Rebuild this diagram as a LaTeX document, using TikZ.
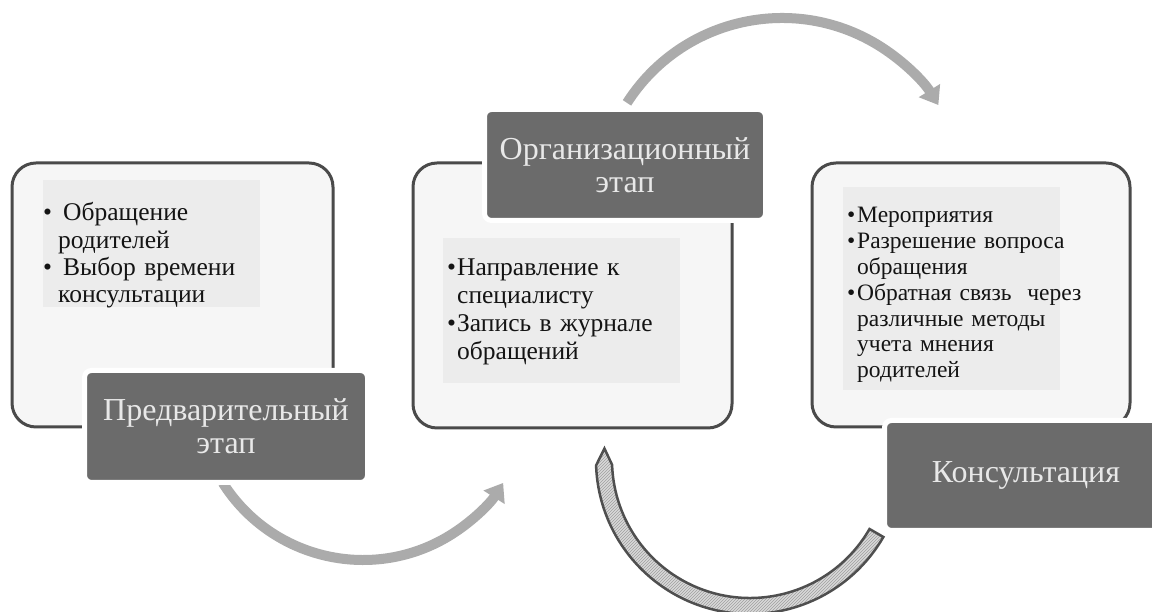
\documentclass[tikz,border=0pt]{standalone}
\usepackage{fontspec}
\setmainfont{Liberation Serif}
\usetikzlibrary{arrows.meta,patterns,calc}
\definecolor{boxline}{HTML}{4A4A4A}
\definecolor{boxfill}{HTML}{F6F6F6}
\definecolor{ghost}{HTML}{ECECEC}
\definecolor{labfill}{HTML}{6B6B6B}
\definecolor{labtext}{HTML}{E8E8E8}
\definecolor{arrowgray}{HTML}{ABABAB}
\definecolor{hatchline}{HTML}{4F4F4F}
\definecolor{bodytext}{HTML}{141414}
\newcommand{\bitem}[2]{\par\hangindent=#1\hangafter=1\noindent\makebox[#1][l]{•}#2\par}
\tikzset{
  stagebox/.style={draw=boxline, line width=3pt, fill=boxfill, rounded corners=24pt, inner sep=0pt},
  stagelabel/.style={draw=white, line width=5pt, fill=labfill, rounded corners=7pt, text=labtext,
     align=center, inner sep=0pt, font=\fontsize{32}{33}\selectfont},
  bodylist/.style={anchor=north west, inner sep=0pt, text=bodytext, align=left},
  flowarrow/.style={draw=arrowgray, line width=10pt, -{Triangle[length=17pt,width=24pt]}},
  hatchband/.style={draw=hatchline, line width=2.5pt, preaction={fill=gray!30},
     pattern=north east lines, pattern color=gray!75}
}
\begin{document}
\begin{tikzpicture}[x=1pt,y=1pt]
\useasboundingbox (0,0) rectangle (1152,612);
\fill[white] (0,0) rectangle (1152,612);

% ---- arcs between stages
\coordinate (c1) at (363,218);
\coordinate (a1s) at ($(c1)+(212.4:166pt)$);
\draw[flowarrow] (a1s) arc[start angle=212.4, end angle=327.6, radius=166pt];

\coordinate (c2) at (782,410);
\coordinate (a2s) at ($(c2)+(147.4:184pt)$);
\draw[flowarrow] (a2s) arc[start angle=147.4, end angle=31.8, radius=184pt];

\coordinate (c3) at (750,152);
\coordinate (h1) at ($(c3)+(175.5:146pt)$);
\coordinate (h2) at ($(c3)+(182:154pt)$);
\coordinate (h3) at ($(c3)+(330:138pt)$);
\draw[hatchband] (h1) -- (h2) arc[start angle=182, end angle=330, radius=154pt]
   -- (h3) arc[start angle=330, end angle=182, radius=138pt] -- cycle;

% ---- stage 1
\node[stagebox, minimum width=321pt, minimum height=264pt] (b1) at (172.5,317) {};
\fill[ghost] (43,305) rectangle (260,432);
\node[bodylist, text width=250pt, font=\fontsize{25.5}{27.3}\selectfont] (t1) at (43,418.5)
  {\bitem{15pt}{\hspace{5pt}Обращение\newline родителей}\bitem{15pt}{\hspace{5pt}Выбор времени\newline консультации}};
\node[stagelabel, minimum width=283pt, minimum height=112pt] (l1) at (226,185.5) {Предварительный\\этап};

% ---- stage 2
\node[stagebox, minimum width=319pt, minimum height=265pt] (b2) at (572.5,316.5) {};
\fill[ghost] (443,229) rectangle (680,374);
\node[bodylist, text width=265pt, font=\fontsize{25.5}{28}\selectfont] (t2) at (447,364.5)
  {\bitem{10pt}{Направление к\newline специалисту}\bitem{10pt}{Запись в журнале\newline обращений}};
\node[stagelabel, minimum width=281pt, minimum height=111pt] (l2) at (625,447) {Организационный\\этап};

% ---- stage 3
\node[stagebox, minimum width=318pt, minimum height=264pt] (b3) at (971,317) {};
\fill[ghost] (843,222) rectangle (1060,425);
\node[bodylist, text width=270pt, font=\fontsize{23.5}{25.8}\selectfont] (t3) at (847,415)
  {\bitem{10pt}{Мероприятия}\bitem{10pt}{Разрешение вопроса\newline обращения}\bitem{10pt}{Обратная связь\ \ через\newline различные методы\newline учета мнения\newline родителей}};
\node[stagelabel, minimum width=283pt, minimum height=110pt] (l3) at (1026,136.5) {Консультация};
\end{tikzpicture}
\end{document}
